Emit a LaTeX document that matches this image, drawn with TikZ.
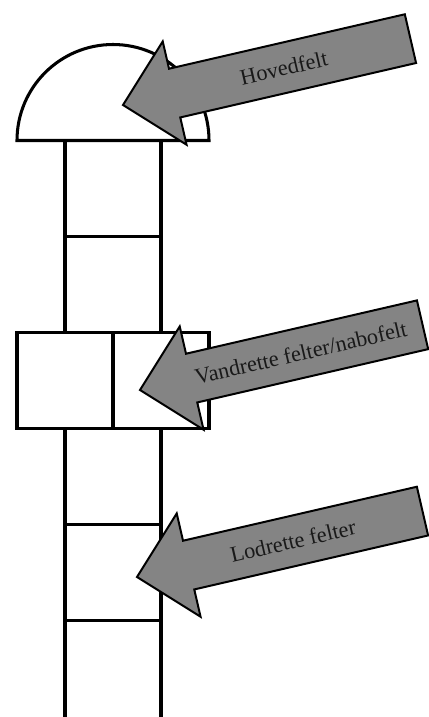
\documentclass[tikz,border=0pt]{standalone}
\usepackage{fontspec}
\setmainfont{Liberation Serif}
\usetikzlibrary{positioning}

\definecolor{pilgraa}{RGB}{132,132,132}

\tikzset{
  kant/.style={draw, line width=2.6pt},
  felt/.style={kant, fill=white, minimum width=2.88cm, minimum height=2.88cm,
    inner sep=0pt, outer sep=0pt},
  pil/.style={draw, line width=1.7pt, fill=pilgraa, line join=miter},
  piltekst/.style={font=\fontsize{19}{21}\selectfont, text=black!90, transform shape},
}

% blokpil: name, tip, label, text position, length
\newcommand{\blokpil}[5]{%
  \begin{scope}[shift={#2}, rotate=13]
    \draw[pil] (0,0) -- (53,-53) -- (53,-25) -- (#5,-25) -- (#5,25) -- (53,25) -- (53,53) -- cycle;
    \node[piltekst] (#1) at (#4,0) {#3};
  \end{scope}}

\begin{document}
\begin{tikzpicture}[x=0.03cm, y=-0.03cm]
  \useasboundingbox (0,0) rectangle (429,717);

  % hovedfelt med kuppel
  \node[felt] (c1) at (113,188.5) {};
  \draw[kant, fill=white] ([xshift=-2.88cm]c1.north) arc[start angle=180, end angle=0, radius=2.88cm] -- cycle;
  \node[felt] (c2) [below=0pt of c1] {};

  % vandrette felter
  \node[felt] (n1) [below=0pt of c2.south west] {};
  \node[felt] (n2) [below=0pt of c2.south east] {};

  % lodrette felter
  \node[felt] (c3) [below=0pt of n1.south east] {};
  \node[felt] (c4) [below=0pt of c3] {};
  \draw[kant] (c4.south west) -- ++(0,97);
  \draw[kant] (c4.south east) -- ++(0,97);

  % pile
  \blokpil{hoved}{(123,105)}{Hovedfelt}{165}{295}
  \blokpil{vandret}{(140,390)}{Vandrette felter/nabofelt}{165}{290}
  \blokpil{lodret}{(137,577)}{Lodrette felter}{160}{293}
\end{tikzpicture}
\end{document}
